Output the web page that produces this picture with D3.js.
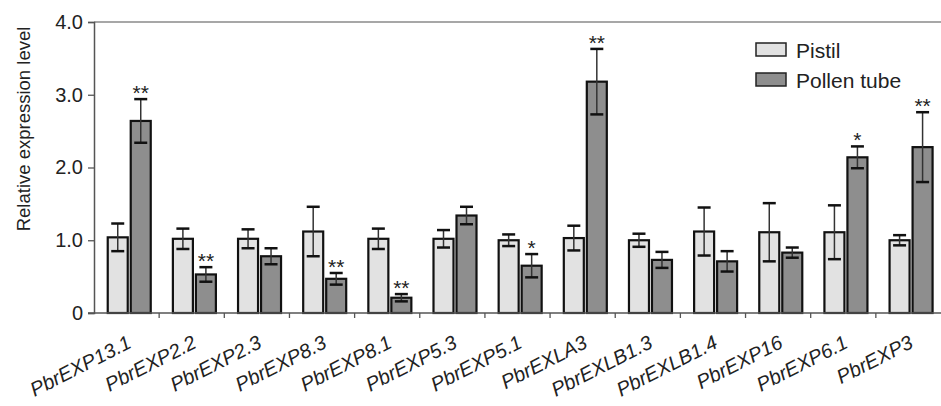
<!DOCTYPE html>
<html>
<head>
<meta charset="utf-8">
<script src="https://cdn.jsdelivr.net/npm/d3@7"></script>
<style>
  body { margin: 0; background: #fff; }
  svg text { font-family: "Liberation Sans", Arial, sans-serif; fill: #222; }
</style>
</head>
<body>
<svg id="chart"></svg>
<script>
// Genes on the x axis
var genes = ["PbrEXP13.1", "PbrEXP2.2", "PbrEXP2.3", "PbrEXP8.3", "PbrEXP8.1", "PbrEXP5.3",
  "PbrEXP5.1", "PbrEXLA3", "PbrEXLB1.3", "PbrEXLB1.4", "PbrEXP16", "PbrEXP6.1", "PbrEXP3"];

// Series values
var pistil    = [1.04, 1.02, 1.02, 1.12, 1.02, 1.02, 1.00, 1.03, 1.00, 1.12, 1.11, 1.11, 1.00];
var pistilErr = [0.19, 0.14, 0.13, 0.34, 0.14, 0.12, 0.08, 0.17, 0.09, 0.33, 0.40, 0.37, 0.07];
var pollen    = [2.64, 0.53, 0.78, 0.47, 0.21, 1.34, 0.65, 3.18, 0.73, 0.71, 0.83, 2.14, 2.28];
var pollenErr = [0.30, 0.10, 0.11, 0.08, 0.05, 0.12, 0.16, 0.45, 0.11, 0.14, 0.07, 0.15, 0.48];
var pollenSig = ["**", "**", "", "**", "**", "", "*", "**", "", "", "", "*", "**"];

var seriesNames = ["Pistil", "Pollen tube"];
var yTicks = [0, 1, 2, 3, 4];

var width = 941, height = 406;
var margin = {left: 94, right: 0, top: 22, bottom: 93};

var svg = d3.select("#chart")
  .attr("width", width)
  .attr("height", height);

var x0 = d3.scaleBand()
  .domain(genes)
  .range([margin.left, width - margin.right])
  .paddingInner(0.34)
  .paddingOuter(0.17)
  .align(0.62);

var x1 = d3.scaleBand()
  .domain(seriesNames)
  .range([0, x0.bandwidth()])
  .paddingInner(0.13);

var y = d3.scaleLinear()
  .domain([0, 4])
  .range([height - margin.bottom, margin.top]);

var colors = d3.scaleOrdinal()
  .domain(seriesNames)
  .range(["#e2e2e2", "#8e8e8e"]);

// rows for the bars
var rows = [];
genes.forEach(function (g, i) {
  rows.push({gene: g, series: "Pistil", value: pistil[i], err: pistilErr[i], sig: ""});
  rows.push({gene: g, series: "Pollen tube", value: pollen[i], err: pollenErr[i], sig: pollenSig[i]});
});

// top border line
svg.append("line")
  .attr("x1", margin.left).attr("x2", width)
  .attr("y1", y(4)).attr("y2", y(4))
  .attr("stroke", "#8a8a8a")
  .attr("stroke-width", 1.5);

// Y axis
var yAxis = svg.append("g")
  .attr("transform", "translate(" + margin.left + ",0)")
  .call(d3.axisLeft(y).tickValues(yTicks).tickSize(6).tickPadding(5)
    .tickFormat(function (d) { return d === 0 ? "0" : d3.format(".1f")(d); }));
yAxis.select(".domain").attr("stroke", "#555").attr("stroke-width", 1.5);
yAxis.selectAll(".tick line").attr("stroke", "#555").attr("stroke-width", 1.3);
yAxis.selectAll(".tick text")
  .attr("font-size", 20)
  .style("font-family", "'Liberation Sans', Arial, sans-serif")
  .attr("fill", "#222");

svg.append("text")
  .attr("transform", "translate(24,129)rotate(-90)")
  .attr("text-anchor", "middle")
  .attr("dy", "0.35em")
  .attr("font-size", 18.5)
  .text("Relative expression level");

// Bars
var bars = svg.selectAll(".bar")
  .data(rows)
  .enter().append("g")
  .attr("class", "bar");

bars.append("rect")
  .attr("x", function (d) { return x0(d.gene) + x1(d.series); })
  .attr("y", function (d) { return y(d.value); })
  .attr("width", x1.bandwidth())
  .attr("height", function (d) { return y(0) - y(d.value); })
  .attr("fill", function (d) { return colors(d.series); })
  .attr("stroke", "#111")
  .attr("stroke-width", 2.2);

// Error bars
var capW = 13;
function cx(d) { return x0(d.gene) + x1(d.series) + x1.bandwidth() / 2; }

bars.append("line")
  .attr("x1", cx).attr("x2", cx)
  .attr("y1", function (d) { return y(d.value + d.err); })
  .attr("y2", function (d) { return y(d.value - d.err); })
  .attr("stroke", "#333")
  .attr("stroke-width", 1.5);

[1, -1].forEach(function (s) {
  bars.append("line")
    .attr("x1", function (d) { return cx(d) - capW / 2; })
    .attr("x2", function (d) { return cx(d) + capW / 2; })
    .attr("y1", function (d) { return y(d.value + s * d.err); })
    .attr("y2", function (d) { return y(d.value + s * d.err); })
    .attr("stroke", "#111")
    .attr("stroke-width", 2.5);
});

// Significance stars
bars.filter(function (d) { return d.sig; })
  .append("text")
  .attr("x", cx)
  .attr("y", function (d) { return y(d.value + d.err) + 1; })
  .attr("text-anchor", "middle")
  .attr("font-size", 21)
  .text(function (d) { return d.sig; });

// X axis
svg.append("line")
  .attr("x1", margin.left - 6).attr("x2", width)
  .attr("y1", y(0)).attr("y2", y(0))
  .attr("stroke", "#555")
  .attr("stroke-width", 1.5);

svg.selectAll(".xtick")
  .data(genes.slice(1))
  .enter().append("line")
  .attr("class", "xtick")
  .attr("x1", function (d, i) { return margin.left + x0.step() * (i + 1); })
  .attr("x2", function (d, i) { return margin.left + x0.step() * (i + 1); })
  .attr("y1", y(0)).attr("y2", y(0) + 5)
  .attr("stroke", "#555")
  .attr("stroke-width", 1.3);

svg.selectAll(".xlabel")
  .data(genes)
  .enter().append("text")
  .attr("class", "xlabel")
  .attr("transform", function (d, i) {
    var c = margin.left + x0.step() * (i + 0.5);
    return "translate(" + (c + 6) + "," + (y(0) + 34) + ")rotate(-27)";
  })
  .attr("text-anchor", "end")
  .attr("font-size", 20)
  .attr("font-style", "italic")
  .text(function (d) { return d; });

// Legend
var legend = svg.selectAll(".legend")
  .data(seriesNames)
  .enter().append("g")
  .attr("class", "legend")
  .attr("transform", function (d, i) { return "translate(756," + (43 + i * 30) + ")"; });

legend.append("rect")
  .attr("width", 30)
  .attr("height", 13)
  .attr("fill", function (d) { return colors(d); })
  .attr("stroke", "#222")
  .attr("stroke-width", 1.5);

legend.append("text")
  .attr("x", 40)
  .attr("y", 7)
  .attr("dy", "0.36em")
  .attr("font-size", 21)
  .text(function (d) { return d; });
</script>
</body>
</html>
